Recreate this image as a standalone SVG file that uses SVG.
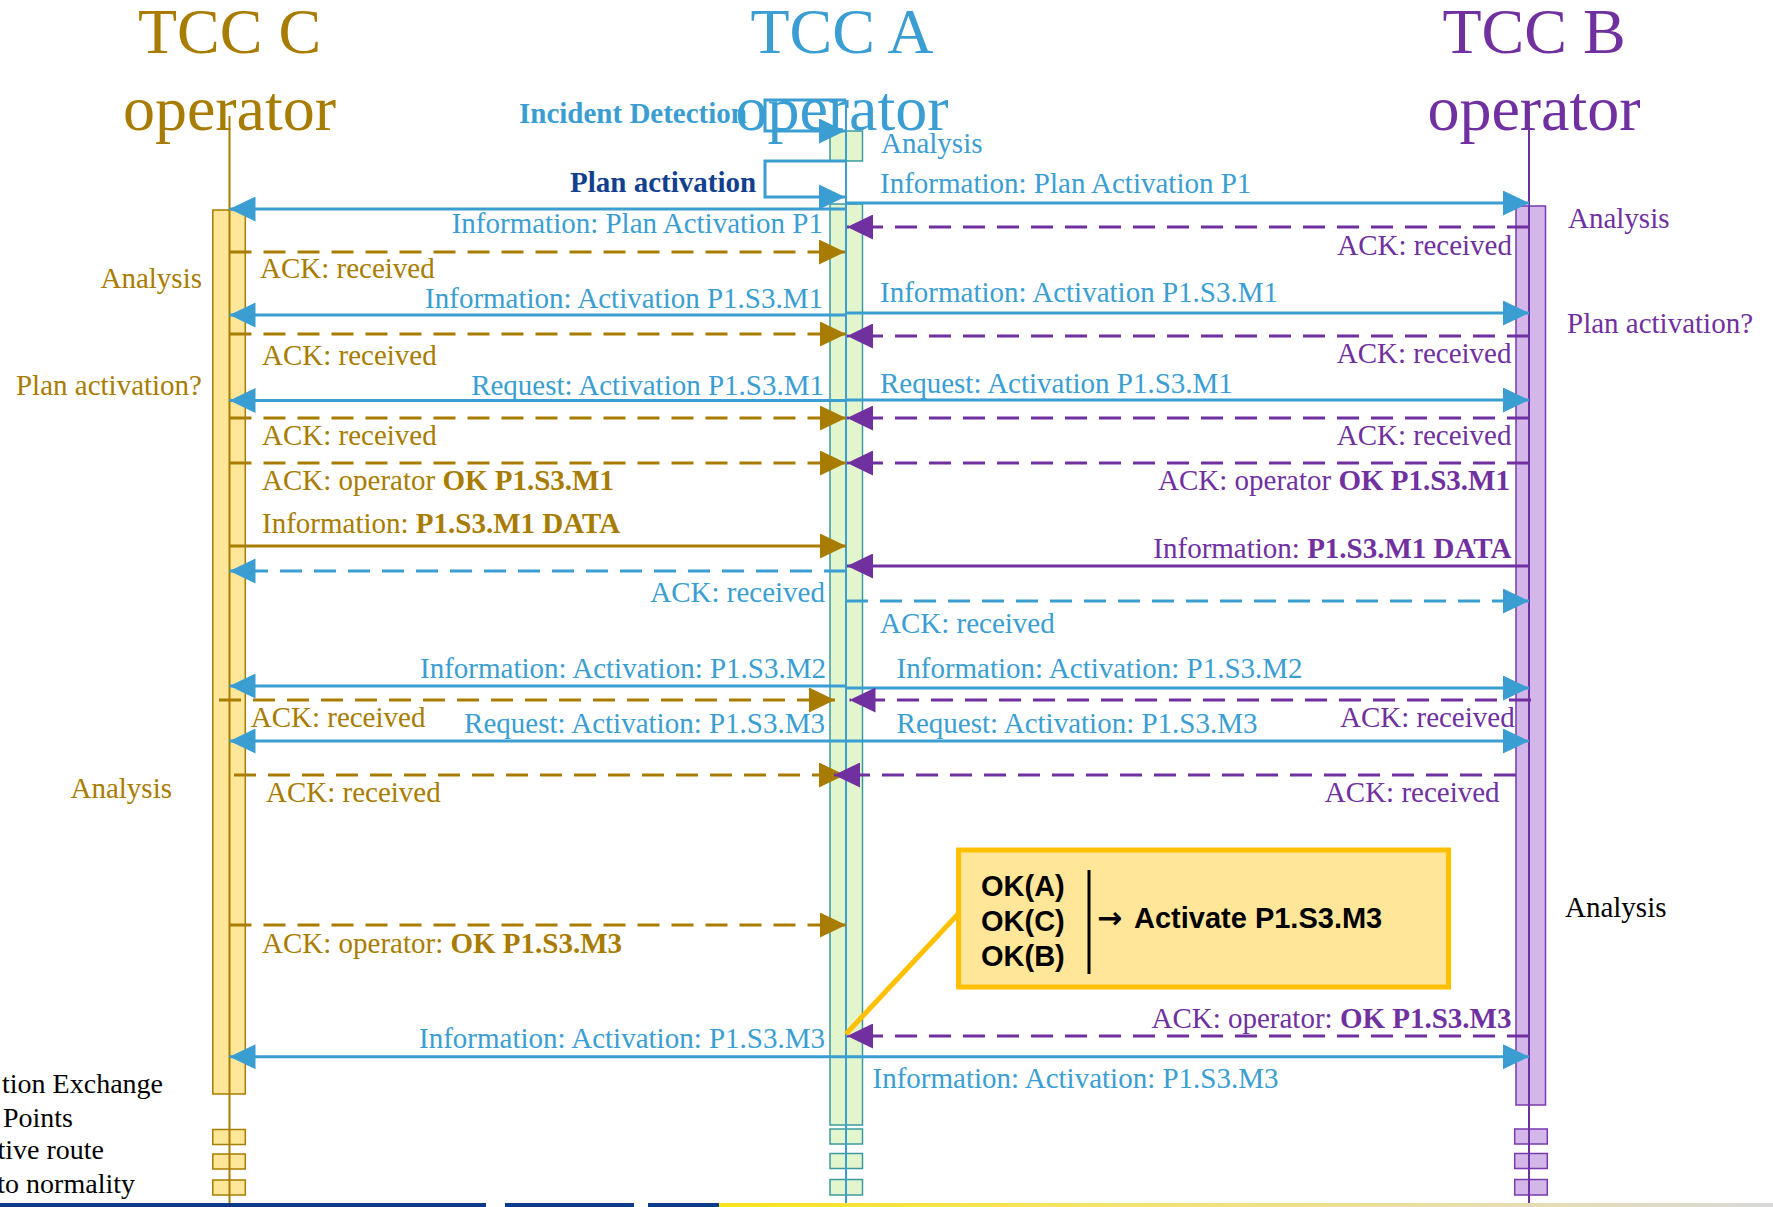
<svg xmlns="http://www.w3.org/2000/svg" width="1773" height="1207" viewBox="0 0 1773 1207">
<style>
  text { font-family: "Liberation Serif", "Times New Roman", serif; font-size: 29px; }
  .hdr { font-size: 64px; text-anchor: middle; }
  .end { text-anchor: end; }
  .b { font-weight: bold; }
  .cG { fill: #A87C00; }
  .cA { fill: #3A9ED2; }
  .cB { fill: #7030A0; }
  .cN { fill: #123F8E; }
  .cK { fill: #000000; }
  .ln { fill: none; stroke-width: 3; }
  .sG { stroke: #A87C00; }
  .sA { stroke: #3A9ED2; }
  .sB { stroke: #7030A0; }
  .d { stroke-dasharray: 22 12; }
  .life { fill: none; stroke-width: 2; }
  .barC { fill: #FFE699; stroke: #A87C00; stroke-width: 1.5; }
  .barA { fill: #E3F5CC; stroke: #3A9AA0; stroke-width: 1.5; }
  .barB { fill: #D3B7E8; stroke: #7A3AB0; stroke-width: 1.5; }
  .note text { font-family: "Liberation Sans", Arial, sans-serif; font-weight: bold; font-size: 29px; fill: #000000; }
  .note .arr { font-family: "DejaVu Sans", sans-serif; font-weight: bold; font-size: 30px; }
  .leg { font-size: 28px; }
</style>
<defs>
  <marker id="ahA" viewBox="0 0 26 25" refX="26" refY="12.5" markerWidth="26" markerHeight="25" markerUnits="userSpaceOnUse" orient="auto"><path d="M0,0L26,12.5L0,25Z" fill="#3A9ED2"/></marker>
  <marker id="ahG" viewBox="0 0 26 25" refX="26" refY="12.5" markerWidth="26" markerHeight="25" markerUnits="userSpaceOnUse" orient="auto"><path d="M0,0L26,12.5L0,25Z" fill="#A87C00"/></marker>
  <marker id="ahB" viewBox="0 0 26 25" refX="26" refY="12.5" markerWidth="26" markerHeight="25" markerUnits="userSpaceOnUse" orient="auto"><path d="M0,0L26,12.5L0,25Z" fill="#7030A0"/></marker>
  <linearGradient id="footGrad" x1="0" y1="0" x2="1" y2="0">
    <stop offset="0" stop-color="#FFE21A"/>
    <stop offset="0.45" stop-color="#F3E27A"/>
    <stop offset="1" stop-color="#D9D9D9"/>
  </linearGradient>
</defs>

<rect width="1773" height="1207" fill="#FFFFFF"/>

<!-- TCC C lifeline -->
<g id="tcc-c">
  <text class="hdr cG" x="229.5" y="53">TCC C</text>
  <text class="hdr cG" x="229.5" y="130">operator</text>
  <rect class="barC" x="212.8" y="210" width="32.5" height="884"/>
  <rect class="barC" x="212.8" y="1129.5" width="32.5" height="15"/>
  <rect class="barC" x="212.8" y="1154" width="32.5" height="15"/>
  <rect class="barC" x="212.8" y="1180" width="32.5" height="15"/>
  <line class="life sG" x1="229.5" y1="116" x2="229.5" y2="1207"/>
  <text class="cG end" x="202" y="288">Analysis</text>
  <text class="cG end" x="202" y="395">Plan activation?</text>
  <text class="cG end" x="172" y="798">Analysis</text>
</g>

<!-- TCC A lifeline -->
<g id="tcc-a">
  <text class="cA b" x="519" y="123">Incident Detection</text>
  <text class="cN b" x="570" y="192">Plan activation</text>
  <text class="hdr cA" x="842" y="53">TCC A</text>
  <text class="hdr cA" x="842" y="130">operator</text>
  <rect class="barA" x="830" y="131" width="32.5" height="30"/>
  <rect class="barA" x="830" y="204" width="32.5" height="921"/>
  <rect class="barA" x="830" y="1129" width="32.5" height="15"/>
  <rect class="barA" x="830" y="1153.5" width="32.5" height="15"/>
  <rect class="barA" x="830" y="1179.5" width="32.5" height="15.5"/>
  <line class="life sA" x1="846" y1="100" x2="846" y2="1207"/>
  <text class="cA" x="881" y="153">Analysis</text>
</g>

<!-- TCC B lifeline -->
<g id="tcc-b">
  <text class="hdr cB" x="1534" y="53">TCC B</text>
  <text class="hdr cB" x="1534" y="130">operator</text>
  <rect class="barB" x="1516" y="206" width="29.5" height="899"/>
  <rect class="barB" x="1514.7" y="1129" width="32.6" height="15"/>
  <rect class="barB" x="1514.7" y="1153.5" width="32.6" height="15"/>
  <rect class="barB" x="1514.7" y="1179.5" width="32.6" height="15.5"/>
  <line class="life sB" x1="1529" y1="130" x2="1529" y2="1207"/>
  <text class="cB" x="1568" y="228">Analysis</text>
  <text class="cB" x="1567" y="333">Plan activation?</text>
  <text class="cK" x="1565" y="917">Analysis</text>
</g>

<!-- Messages -->
<g id="messages">
  <!-- self calls on TCC A -->
  <path class="ln sA" d="M846,100H765V131H845" marker-end="url(#ahA)"/>
  <path class="ln sA" d="M846,161H765V197H845" marker-end="url(#ahA)"/>

  <!-- plan activation P1 -->
  <line class="ln sA" x1="846" y1="203" x2="1529" y2="203" marker-end="url(#ahA)"/>
  <text class="cA" x="880" y="193">Information: Plan Activation P1</text>
  <line class="ln sA" x1="846" y1="209" x2="229.5" y2="209" marker-end="url(#ahA)"/>
  <text class="cA end" x="823" y="233">Information: Plan Activation P1</text>
  <line class="ln sB d" x1="1529" y1="227" x2="847" y2="227" marker-end="url(#ahB)"/>
  <text class="cB end" x="1512" y="255">ACK: received</text>
  <line class="ln sG d" x1="229.5" y1="252" x2="845" y2="252" marker-end="url(#ahG)"/>
  <text class="cG" x="260" y="278">ACK: received</text>

  <!-- activation P1.S3.M1 -->
  <line class="ln sA" x1="846" y1="313" x2="1529" y2="313" marker-end="url(#ahA)"/>
  <text class="cA" x="880" y="302">Information: Activation P1.S3.M1</text>
  <line class="ln sA" x1="846" y1="315" x2="229.5" y2="315" marker-end="url(#ahA)"/>
  <text class="cA end" x="823" y="308">Information: Activation P1.S3.M1</text>
  <line class="ln sG d" x1="229.5" y1="334" x2="846" y2="334" marker-end="url(#ahG)"/>
  <text class="cG" x="262" y="365">ACK: received</text>
  <line class="ln sB d" x1="1529" y1="336" x2="847" y2="336" marker-end="url(#ahB)"/>
  <text class="cB end" x="1511.5" y="363">ACK: received</text>

  <!-- request P1.S3.M1 -->
  <line class="ln sA" x1="846" y1="400.5" x2="229.5" y2="400.5" marker-end="url(#ahA)"/>
  <text class="cA end" x="824" y="395">Request: Activation P1.S3.M1</text>
  <line class="ln sA" x1="846" y1="400" x2="1529" y2="400" marker-end="url(#ahA)"/>
  <text class="cA" x="880" y="393">Request: Activation P1.S3.M1</text>
  <line class="ln sG d" x1="229.5" y1="418" x2="846" y2="418" marker-end="url(#ahG)"/>
  <text class="cG" x="262" y="445">ACK: received</text>
  <line class="ln sB d" x1="1529" y1="418" x2="847" y2="418" marker-end="url(#ahB)"/>
  <text class="cB end" x="1511.5" y="445">ACK: received</text>
  <line class="ln sG d" x1="229.5" y1="463" x2="846" y2="463" marker-end="url(#ahG)"/>
  <text class="cG" x="262" y="490">ACK: operator <tspan class="b">OK P1.S3.M1</tspan></text>
  <line class="ln sB d" x1="1529" y1="463" x2="847" y2="463" marker-end="url(#ahB)"/>
  <text class="cB end" x="1510" y="490">ACK: operator <tspan class="b">OK P1.S3.M1</tspan></text>

  <!-- P1.S3.M1 data -->
  <line class="ln sG" x1="229.5" y1="546" x2="846" y2="546" marker-end="url(#ahG)"/>
  <text class="cG" x="262" y="533">Information: <tspan class="b">P1.S3.M1 DATA</tspan></text>
  <line class="ln sB" x1="1529" y1="566" x2="847" y2="566" marker-end="url(#ahB)"/>
  <text class="cB end" x="1511.5" y="558">Information: <tspan class="b">P1.S3.M1 DATA</tspan></text>
  <line class="ln sA d" x1="846" y1="571" x2="229.5" y2="571" marker-end="url(#ahA)"/>
  <text class="cA end" x="825" y="602">ACK: received</text>
  <line class="ln sA d" x1="846" y1="601" x2="1529" y2="601" marker-end="url(#ahA)"/>
  <text class="cA" x="880" y="633">ACK: received</text>

  <!-- activation P1.S3.M2 -->
  <line class="ln sA" x1="846" y1="686" x2="229.5" y2="686" marker-end="url(#ahA)"/>
  <text class="cA end" x="826" y="678">Information: Activation: P1.S3.M2</text>
  <line class="ln sA" x1="846" y1="688" x2="1529" y2="688" marker-end="url(#ahA)"/>
  <text class="cA" x="896.6" y="678">Information: Activation: P1.S3.M2</text>
  <line class="ln sG d" x1="219" y1="700" x2="835" y2="700" marker-end="url(#ahG)"/>
  <text class="cG" x="250.7" y="727">ACK: received</text>
  <line class="ln sB d" x1="1531" y1="700" x2="849.5" y2="700" marker-end="url(#ahB)"/>
  <text class="cB end" x="1514.7" y="727">ACK: received</text>

  <!-- request P1.S3.M3 -->
  <line class="ln sA" x1="846" y1="741" x2="229.5" y2="741" marker-end="url(#ahA)"/>
  <text class="cA end" x="825" y="733">Request: Activation: P1.S3.M3</text>
  <line class="ln sA" x1="846" y1="741" x2="1529" y2="741" marker-end="url(#ahA)"/>
  <text class="cA" x="896.6" y="733">Request: Activation: P1.S3.M3</text>
  <line class="ln sG d" x1="234" y1="775" x2="845" y2="775" marker-end="url(#ahG)"/>
  <text class="cG" x="266" y="802">ACK: received</text>
  <line class="ln sB d" x1="1516" y1="775" x2="834" y2="775" marker-end="url(#ahB)"/>
  <text class="cB end" x="1499.6" y="802">ACK: received</text>

  <!-- operator OK P1.S3.M3 -->
  <line class="ln sG d" x1="229.5" y1="925" x2="846" y2="925" marker-end="url(#ahG)"/>
  <text class="cG" x="262" y="953">ACK: operator: <tspan class="b">OK P1.S3.M3</tspan></text>
  <line class="ln sB d" x1="1529" y1="1036" x2="847" y2="1036" marker-end="url(#ahB)"/>
  <text class="cB end" x="1511.5" y="1028">ACK: operator: <tspan class="b">OK P1.S3.M3</tspan></text>

  <!-- activation P1.S3.M3 -->
  <line class="ln sA" x1="846" y1="1056.7" x2="229.5" y2="1056.7" marker-end="url(#ahA)"/>
  <text class="cA end" x="825" y="1048">Information: Activation: P1.S3.M3</text>
  <line class="ln sA" x1="846" y1="1056.7" x2="1529" y2="1056.7" marker-end="url(#ahA)"/>
  <text class="cA" x="872.5" y="1088">Information: Activation: P1.S3.M3</text>

  <!-- note pointer -->
  <line x1="959" y1="913" x2="846" y2="1034" stroke="#FFC000" stroke-width="5"/>
</g>

<!-- decision note -->
<g id="note" class="note">
  <rect x="958.6" y="850" width="490" height="137" fill="#FFE699" stroke="#FFC000" stroke-width="5"/>
  <text x="981" y="896">OK(A)</text>
  <text x="981" y="931">OK(C)</text>
  <text x="981" y="966">OK(B)</text>
  <line x1="1089" y1="870" x2="1089" y2="974" stroke="#000000" stroke-width="3"/>
  <text x="1097" y="928"><tspan class="arr">→</tspan> <tspan x="1134">Activate P1.S3.M3</tspan></text>
</g>

<!-- legend entries at the left edge -->
<g id="legend">
  <text class="cK end leg" x="163" y="1093">tion Exchange</text>
  <text class="cK end leg" x="73" y="1127">Points</text>
  <text class="cK end leg" x="104" y="1159">tive route</text>
  <text class="cK end leg" x="135" y="1193">to normality</text>
</g>

<!-- footer band -->
<g id="footer">
  <rect x="0" y="1203" width="486" height="4" fill="#0D3B8A"/>
  <rect x="505" y="1203" width="129" height="4" fill="#0D3B8A"/>
  <rect x="648" y="1203" width="71" height="4" fill="#0D3B8A"/>
  <rect x="719" y="1203" width="1054" height="4" fill="url(#footGrad)"/>
</g>
</svg>
